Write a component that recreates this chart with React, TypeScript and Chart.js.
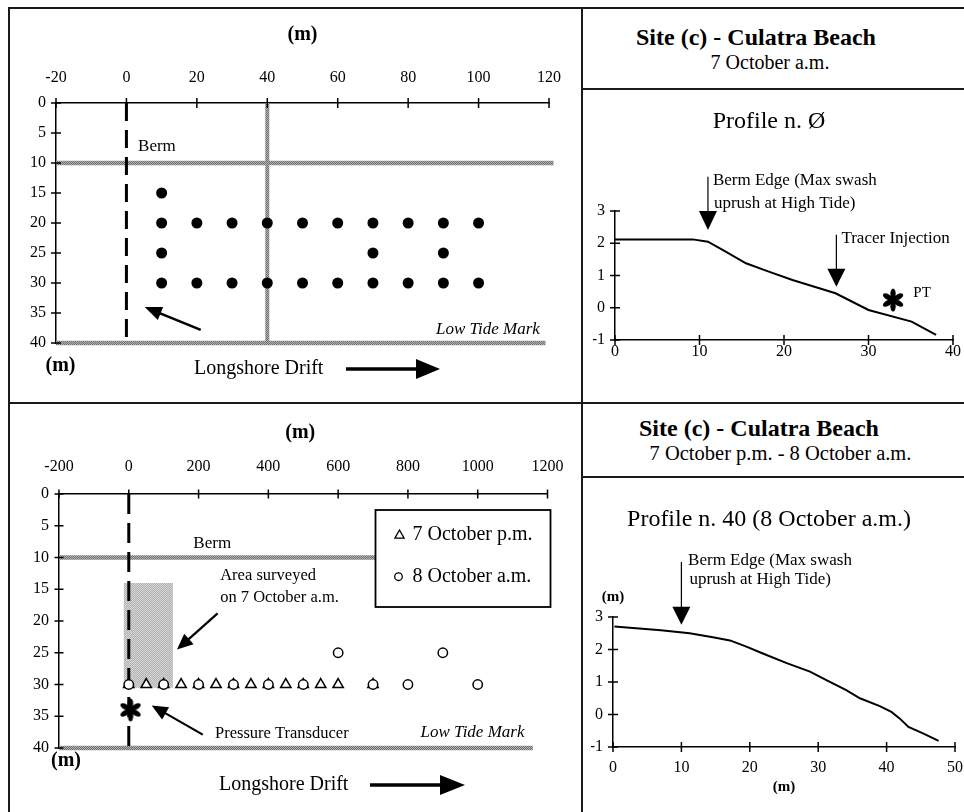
import React, { useEffect, useRef } from 'react';
import { Chart, registerables } from 'chart.js';

Chart.register(...registerables);

const SERIF = "'Liberation Serif', 'Times New Roman', serif";

// ---------- Top-left: tracer sampling grid, 7 October a.m. ----------
const tlXTicks = [-20, 0, 20, 40, 60, 80, 100, 120];
const tlYTicks = [0, 5, 10, 15, 20, 25, 30, 35, 40];
const tlSampleX = [10, 10, 20, 30, 40, 50, 60, 70, 80, 90, 100, 10, 70, 90, 10, 20, 30, 40, 50, 60, 70, 80, 90, 100];
const tlSampleY = [15, 20, 20, 20, 20, 20, 20, 20, 20, 20, 20, 25, 25, 25, 30, 30, 30, 30, 30, 30, 30, 30, 30, 30];
const tlBermY = 10;
const tlBermXEnd = 121.3;
const tlLowTideY = 40;
const tlLowTideXEnd = 119;
const tlGridLineX = 40;
const tlInjectionLineX = 0;

// ---------- Top-right: Profile n. Ø ----------
const p0X = [0, 9.2, 11, 13.1, 15.5, 18.2, 21, 26.1, 30, 35.1, 38];
const p0Y = [2.12, 2.12, 2.05, 1.74, 1.38, 1.12, 0.86, 0.45, -0.07, -0.43, -0.84];
const p0BermEdgeX = 11;
const p0TracerX = 26.2;
const p0PT = [32.9, 0.24];

// ---------- Bottom-left: 7 October p.m. / 8 October a.m. ----------
const seriesLabels = ['7 October p.m.', '8 October a.m.'];
const blXTicks = [-200, 0, 200, 400, 600, 800, 1000, 1200];
const pmX = [0, 50, 100, 150, 200, 250, 300, 350, 400, 450, 500, 550, 600, 700];
const pmY = [30, 30, 30, 30, 30, 30, 30, 30, 30, 30, 30, 30, 30, 30];
const amX = [0, 100, 200, 300, 400, 500, 600, 700, 800, 900, 1000];
const amY = [30, 30, 30, 30, 30, 30, 25, 30, 30, 25, 30];
const surveyedX = [-15, 127];
const surveyedY = [14, 30.5];
const blTransducer = [5, 34];
const blBermY = 10;
const blLowTideY = 40;
const blLowTideXEnd = 1158;

// ---------- Bottom-right: Profile n. 40 ----------
const p40X = [0.2, 7, 11.2, 14.6, 17.1, 19.5, 22, 25.4, 28.8, 31.2, 34.1, 36.1, 39, 40.7, 41.9, 43.2, 45.4, 47.6];
const p40Y = [2.71, 2.59, 2.5, 2.38, 2.28, 2.09, 1.87, 1.58, 1.32, 1.06, 0.75, 0.5, 0.26, 0.08, -0.12, -0.38, -0.59, -0.81];
const p40BermEdgeX = 10;

// ---------- helpers ----------
const pts = (xs: number[], ys: number[]) => xs.map((x, i) => ({ x, y: ys[i] }));

function makePattern(a: string, b: string) {
  const c = document.createElement('canvas');
  c.width = 2;
  c.height = 2;
  const g = c.getContext('2d')!;
  g.fillStyle = a;
  g.fillRect(0, 0, 2, 2);
  g.fillStyle = b;
  g.fillRect(0, 0, 1, 1);
  g.fillRect(1, 1, 1, 1);
  return g.createPattern(c, 'repeat')!;
}

function makeAsterisk() {
  const size = 26;
  const c = document.createElement('canvas');
  c.width = size;
  c.height = size;
  const g = c.getContext('2d')!;
  g.fillStyle = '#000';
  for (let k = 0; k < 6; k++) {
    g.save();
    g.translate(size / 2, size / 2);
    g.rotate(-Math.PI / 2 + (k * Math.PI) / 3);
    g.beginPath();
    g.ellipse(6.2, 0, 5.3, 2.7, 0, 0, Math.PI * 2);
    g.fill();
    g.restore();
  }
  g.beginPath();
  g.arc(size / 2, size / 2, 2.8, 0, Math.PI * 2);
  g.fill();
  return c;
}

function txt(ctx: any, s: string, x: number, y: number, font: string, align: any = 'left') {
  ctx.save();
  ctx.font = font;
  ctx.fillStyle = '#000';
  ctx.textAlign = align;
  ctx.textBaseline = 'middle';
  ctx.fillText(s, x, y);
  ctx.restore();
}

function arrow(ctx: any, x1: number, y1: number, x2: number, y2: number, shaft: number, headLen: number, headW: number) {
  const a = Math.atan2(y2 - y1, x2 - x1);
  const bx = x2 - Math.cos(a) * headLen;
  const by = y2 - Math.sin(a) * headLen;
  ctx.save();
  ctx.strokeStyle = '#000';
  ctx.fillStyle = '#000';
  ctx.lineWidth = shaft;
  ctx.beginPath();
  ctx.moveTo(x1, y1);
  ctx.lineTo(bx + Math.cos(a), by + Math.sin(a));
  ctx.stroke();
  ctx.beginPath();
  ctx.moveTo(x2, y2);
  ctx.lineTo(bx + (Math.sin(a) * headW) / 2, by - (Math.cos(a) * headW) / 2);
  ctx.lineTo(bx - (Math.sin(a) * headW) / 2, by + (Math.cos(a) * headW) / 2);
  ctx.closePath();
  ctx.fill();
  ctx.restore();
}

const crossTicks = (len: number) => ({
  id: 'crossTicks',
  afterDraw(chart: any) {
    const ctx = chart.ctx;
    ctx.save();
    ctx.strokeStyle = '#000';
    ctx.lineWidth = 1.5;
    Object.values(chart.scales).forEach((s: any) => {
      s.ticks.forEach((_t: any, i: number) => {
        const p = s.getPixelForTick(i);
        ctx.beginPath();
        if (s.isHorizontal()) {
          const y = s.position === 'top' ? s.bottom : s.top;
          ctx.moveTo(p, y - len);
          ctx.lineTo(p, y + len);
        } else {
          const x = s.right;
          ctx.moveTo(x - len, p);
          ctx.lineTo(x + len, p);
        }
        ctx.stroke();
      });
    });
    ctx.restore();
  },
});

const tickFont = { family: SERIF, size: 16, lineHeight: 1 };
const plain = (v: any) => String(v);

function axis(opts: any) {
  const { size, ...rest } = opts;
  return {
    type: 'linear',
    grid: { display: false, drawTicks: false },
    border: { display: true, color: '#000', width: 1.5 },
    ...rest,
    ticks: { font: tickFont, color: '#000', callback: plain, ...(rest.ticks || {}) },
    afterFit: (s: any) => {
      if (s.isHorizontal()) s.height = size;
      else s.width = size;
      s.paddingLeft = 0;
      s.paddingRight = 0;
      s.paddingTop = 0;
      s.paddingBottom = 0;
    },
  };
}

const lineDs = (data: any[], color: any, width: number, extra: any = {}) => ({
  type: 'line',
  data,
  borderColor: color,
  borderWidth: width,
  pointRadius: 0,
  showLine: true,
  fill: false,
  clip: false,
  tension: 0,
  ...extra,
});

const baseOptions = (padding: any, scales: any) => ({
  responsive: false,
  animation: false,
  events: [],
  layout: { padding },
  plugins: { legend: { display: false }, tooltip: { enabled: false }, title: { display: false } },
  scales,
});

// ---------- chart configs ----------
function configTopLeft(): any {
  const hatch = makePattern('#6e6e6e', '#b4b4b4');
  return {
    type: 'scatter',
    data: {
      datasets: [
        { type: 'scatter', data: pts(tlSampleX, tlSampleY), pointRadius: 5.5, backgroundColor: '#000', borderColor: '#000', borderWidth: 0, clip: false },
        lineDs([{ x: tlInjectionLineX, y: 0 }, { x: tlInjectionLineX, y: 40 }], '#000', 3, { borderDash: [18, 9] }),
        lineDs([{ x: tlGridLineX, y: 0 }, { x: tlGridLineX, y: 40 }], hatch, 4),
        lineDs([{ x: -20, y: tlBermY }, { x: tlBermXEnd, y: tlBermY }], hatch, 4.5),
        lineDs([{ x: -20, y: tlLowTideY }, { x: tlLowTideXEnd, y: tlLowTideY }], hatch, 4.5),
      ],
    },
    options: baseOptions({ left: 16, top: 54, right: 32, bottom: 59 }, {
      x: axis({ position: 'top', min: tlXTicks[0], max: tlXTicks[tlXTicks.length - 1], size: 40, ticks: { stepSize: 20, padding: 17 } }),
      y: axis({ reverse: true, min: tlYTicks[0], max: tlYTicks[tlYTicks.length - 1], size: 30, ticks: { stepSize: 5, padding: 10 } }),
    }),
    plugins: [
      crossTicks(5),
      {
        id: 'notesTL',
        afterDraw(chart: any) {
          const { ctx, chartArea: ca } = chart;
          const xs = chart.scales.x, ys = chart.scales.y;
          txt(ctx, 'Berm', xs.getPixelForValue(3.3), ys.getPixelForValue(7.25), `17px ${SERIF}`);
          txt(ctx, 'Low Tide Mark', xs.getPixelForValue(117.4), ys.getPixelForValue(37.8), `italic 17px ${SERIF}`, 'right');
          arrow(ctx, xs.getPixelForValue(21.1), ys.getPixelForValue(37.8), xs.getPixelForValue(5.2), ys.getPixelForValue(34), 2.5, 17, 14);
          txt(ctx, '(m)', (ca.left + ca.right) / 2, ca.top - 68, `bold 20px ${SERIF}`, 'center');
          txt(ctx, '(m)', ca.left + 4.5, ca.bottom + 23, `bold 20px ${SERIF}`, 'center');
          txt(ctx, 'Longshore Drift', ca.left + 138, ca.bottom + 26, `20px ${SERIF}`);
          arrow(ctx, ca.left + 290, ca.bottom + 26, ca.left + 384, ca.bottom + 26, 3.5, 24, 20);
        },
      },
    ],
  };
}

function configTopRight(): any {
  return {
    type: 'scatter',
    data: {
      datasets: [
        { type: 'scatter', data: [{ x: p0PT[0], y: p0PT[1] }], pointStyle: makeAsterisk(), pointRadius: 10, clip: false },
        lineDs(pts(p0X, p0Y), '#000', 2),
      ],
    },
    options: baseOptions({ left: 10, top: 121, right: 9, bottom: 32 }, {
      x: axis({ position: 'bottom', min: 0, max: 40, size: 30, ticks: { stepSize: 10, padding: 4 } }),
      y: axis({ min: -1, max: 3, size: 22, ticks: { stepSize: 1, padding: 10 } }),
    }),
    plugins: [
      crossTicks(5),
      {
        id: 'notesTR',
        afterDraw(chart: any) {
          const { ctx, chartArea: ca } = chart;
          const xs = chart.scales.x, ys = chart.scales.y;
          txt(ctx, 'Profile n. Ø', ca.left + 154, 31.7, `24px ${SERIF}`, 'center');
          const bx = xs.getPixelForValue(p0BermEdgeX);
          arrow(ctx, bx, ys.getPixelForValue(4.06), bx, ys.getPixelForValue(2.41), 1.2, 19, 18);
          txt(ctx, 'Berm Edge (Max swash', bx + 5, ys.getPixelForValue(3.96), `17px ${SERIF}`);
          txt(ctx, 'uprush at High Tide)', bx + 6, ys.getPixelForValue(3.24), `17px ${SERIF}`);
          const tx = xs.getPixelForValue(p0TracerX);
          arrow(ctx, tx, ys.getPixelForValue(2.26), tx, ys.getPixelForValue(0.65), 1.2, 18, 18);
          txt(ctx, 'Tracer Injection', tx + 5, ys.getPixelForValue(2.15), `17px ${SERIF}`);
          txt(ctx, 'PT', xs.getPixelForValue(35.3), ys.getPixelForValue(0.45), `15px ${SERIF}`);
        },
      },
    ],
  };
}

function configBottomLeft(): any {
  const hatch = makePattern('#6e6e6e', '#b4b4b4');
  const area = makePattern('#b2b2b2', '#d6d6d6');
  return {
    type: 'scatter',
    data: {
      datasets: [
        { type: 'scatter', label: seriesLabels[1], data: pts(amX, amY), pointStyle: 'circle', pointRadius: 4.7, borderWidth: 1.5, borderColor: '#000', backgroundColor: '#fff', clip: false },
        { type: 'scatter', label: seriesLabels[0], data: pts(pmX, pmY), pointStyle: 'triangle', pointRadius: 6, borderWidth: 1.5, borderColor: '#000', backgroundColor: '#fff', clip: false },
        { type: 'scatter', data: [{ x: blTransducer[0], y: blTransducer[1] }], pointStyle: makeAsterisk(), pointRadius: 10, clip: false },
        lineDs([{ x: 0, y: 0 }, { x: 0, y: 40 }], '#000', 3, { borderDash: [20, 9] }),
        lineDs([{ x: surveyedX[0], y: surveyedY[0] }, { x: surveyedX[1], y: surveyedY[0] }], 'rgba(0,0,0,0)', 0, { fill: { value: surveyedY[1] }, backgroundColor: area }),
        lineDs([{ x: -200, y: blBermY }, { x: 1200, y: blBermY }], hatch, 4.5),
        lineDs([{ x: -200, y: blLowTideY }, { x: blLowTideXEnd, y: blLowTideY }], hatch, 4.5),
      ],
    },
    options: baseOptions({ left: 19, top: 50, right: 33.5, bottom: 64 }, {
      x: axis({ position: 'top', min: blXTicks[0], max: blXTicks[blXTicks.length - 1], size: 40, ticks: { stepSize: 200, padding: 19 } }),
      y: axis({ reverse: true, min: 0, max: 40, size: 30, ticks: { stepSize: 5, padding: 10 } }),
    }),
    plugins: [
      crossTicks(4.5),
      {
        id: 'notesBL',
        afterDraw(chart: any) {
          const { ctx, chartArea: ca } = chart;
          const xs = chart.scales.x, ys = chart.scales.y;
          txt(ctx, 'Berm', xs.getPixelForValue(185), ys.getPixelForValue(7.73), `17px ${SERIF}`);
          txt(ctx, 'Area surveyed', xs.getPixelForValue(262), ys.getPixelForValue(12.9), `16.5px ${SERIF}`);
          txt(ctx, 'on 7 October a.m.', xs.getPixelForValue(262), ys.getPixelForValue(16.4), `16.5px ${SERIF}`);
          arrow(ctx, xs.getPixelForValue(254.6), ys.getPixelForValue(18.8), xs.getPixelForValue(138), ys.getPixelForValue(24.5), 2.2, 16, 14);
          arrow(ctx, xs.getPixelForValue(212), ys.getPixelForValue(37.9), xs.getPixelForValue(65.7), ys.getPixelForValue(33.3), 2.2, 16, 14);
          txt(ctx, 'Pressure Transducer', xs.getPixelForValue(247), ys.getPixelForValue(37.7), `16.5px ${SERIF}`);
          txt(ctx, 'Low Tide Mark', xs.getPixelForValue(1134), ys.getPixelForValue(37.6), `italic 17px ${SERIF}`, 'right');
          txt(ctx, '(m)', (ca.left + ca.right) / 2 - 3, ca.top - 61, `bold 20px ${SERIF}`, 'center');
          txt(ctx, '(m)', ca.left + 7, ca.bottom + 13, `bold 20px ${SERIF}`, 'center');
          txt(ctx, 'Longshore Drift', ca.left + 160, ca.bottom + 37, `20px ${SERIF}`);
          arrow(ctx, ca.left + 311, ca.bottom + 37, ca.left + 406, ca.bottom + 37, 3.5, 25, 20);
          // legend box
          const lx = ca.right - 172, ly = ca.top + 16, lw = 175, lh = 97;
          ctx.save();
          ctx.fillStyle = '#fff';
          ctx.fillRect(lx, ly, lw, lh);
          ctx.strokeStyle = '#000';
          ctx.lineWidth = 1.8;
          ctx.strokeRect(lx, ly, lw, lh);
          const mx = lx + 24;
          const y1 = ly + 25, y2 = ly + 66.7;
          ctx.lineWidth = 1.3;
          ctx.beginPath();
          ctx.moveTo(mx, y1 - 5);
          ctx.lineTo(mx + 4.6, y1 + 3.2);
          ctx.lineTo(mx - 4.6, y1 + 3.2);
          ctx.closePath();
          ctx.stroke();
          ctx.beginPath();
          ctx.arc(mx - 1, y2, 3.8, 0, Math.PI * 2);
          ctx.stroke();
          ctx.restore();
          txt(ctx, seriesLabels[0], lx + 37, y1, `20px ${SERIF}`);
          txt(ctx, seriesLabels[1], lx + 37, y2, `20px ${SERIF}`);
        },
      },
    ],
  };
}

function configBottomRight(): any {
  return {
    type: 'scatter',
    data: { datasets: [lineDs(pts(p40X, p40Y), '#000', 2)] },
    options: baseOptions({ left: 8, top: 139, right: 9, bottom: 35 }, {
      x: axis({ position: 'bottom', min: 0, max: 50, size: 30, ticks: { stepSize: 10, padding: 13 } }),
      y: axis({ min: -1, max: 3, size: 22, ticks: { stepSize: 1, padding: 10 } }),
    }),
    plugins: [
      crossTicks(5),
      {
        id: 'notesBR',
        afterDraw(chart: any) {
          const { ctx, chartArea: ca } = chart;
          const xs = chart.scales.x, ys = chart.scales.y;
          txt(ctx, 'Profile n. 40 (8 October a.m.)', ca.left + 156, 41.3, `24px ${SERIF}`, 'center');
          txt(ctx, '(m)', ca.left, ca.top - 19.6, `bold 15px ${SERIF}`, 'center');
          txt(ctx, '(m)', xs.getPixelForValue(25), ca.bottom + 40, `bold 15px ${SERIF}`, 'center');
          const bx = xs.getPixelForValue(p40BermEdgeX);
          arrow(ctx, bx, ys.getPixelForValue(4.69), bx, ys.getPixelForValue(2.76), 1.2, 18, 18);
          txt(ctx, 'Berm Edge (Max swash', bx + 6.7, ys.getPixelForValue(4.74), `17px ${SERIF}`);
          txt(ctx, 'uprush at High Tide)', bx + 8, ys.getPixelForValue(4.15), `17px ${SERIF}`);
        },
      },
    ],
  };
}

function ChartBox({ left, top, width, height, make }: any) {
  const ref = useRef<HTMLCanvasElement>(null);
  useEffect(() => {
    const chart = new Chart(ref.current as HTMLCanvasElement, make());
    return () => chart.destroy();
  }, []);
  return (
    <canvas
      ref={ref}
      width={width}
      height={height}
      style={{ position: 'absolute', left, top, width, height, display: 'block' }}
    />
  );
}

function Line({ l, t, w, h }: any) {
  return <div style={{ position: 'absolute', left: l, top: t, width: w, height: h, background: '#1a1a1a' }} />;
}

function Label({ x, y, size, bold, children }: any) {
  return (
    <div
      style={{
        position: 'absolute',
        left: x,
        top: y,
        transform: 'translate(-50%, -50%)',
        whiteSpace: 'nowrap',
        lineHeight: 1,
        fontFamily: SERIF,
        fontSize: size,
        fontWeight: bold ? 'bold' : 'normal',
        color: '#000',
      }}
    >
      {children}
    </div>
  );
}

export default function App() {
  useEffect(() => {
    Chart.defaults.font.family = SERIF;
    Chart.defaults.color = '#000';
  }, []);
  return (
    <div style={{ position: 'absolute', left: 0, top: 0, width: 964, height: 812, background: '#fff', overflow: 'hidden' }}>
      <ChartBox left={10} top={9} width={571} height={393} make={configTopLeft} />
      <ChartBox left={583} top={90} width={381} height={312} make={configTopRight} />
      <ChartBox left={10} top={404} width={571} height={408} make={configBottomLeft} />
      <ChartBox left={583} top={478} width={381} height={334} make={configBottomRight} />

      <Label x={756} y={37} size={24} bold>Site (c) - Culatra Beach</Label>
      <Label x={770} y={62} size={20}>7 October a.m.</Label>
      <Label x={759} y={428} size={24} bold>Site (c) - Culatra Beach</Label>
      <Label x={780.5} y={453} size={20.5}>7 October p.m. - 8 October a.m.</Label>

      <Line l={8} t={7} w={956} h={2} />
      <Line l={8} t={7} w={2} h={805} />
      <Line l={581} t={7} w={2} h={805} />
      <Line l={8} t={402} w={956} h={2} />
      <Line l={581} t={88} w={383} h={2} />
      <Line l={581} t={476} w={383} h={2} />
    </div>
  );
}
